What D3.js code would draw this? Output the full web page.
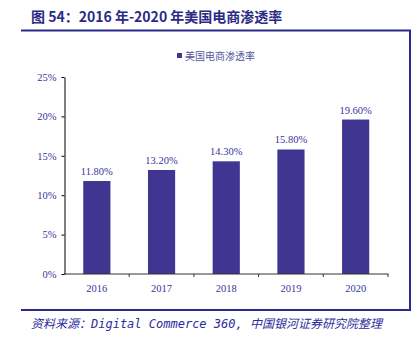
<!DOCTYPE html>
<html><head><meta charset="utf-8">
<script src="https://cdn.jsdelivr.net/npm/d3@7"></script>
<style>body{margin:0;background:#fff}svg{display:block}</style>
</head><body>
<svg id="c" width="413" height="343"></svg>
<script>
const years = ["2016","2017","2018","2019","2020"];
const values = [11.8, 13.2, 14.3, 15.8, 19.6];
const valueLabels = ["11.80%","13.20%","14.30%","15.80%","19.60%"];
const yTicks = [0,5,10,15,20,25];
const seriesName = "美国电商渗透率";
const title = "图 54：2016 年-2020 年美国电商渗透率";
const source = "资料来源：Digital Commerce 360, 中国银河证券研究院整理";

const svg = d3.select("#c");
const barColor = "#403590";
const frame = "#2a2a8c";
const textBlue = "#3535a0";

// title
svg.append("text").attr("x",31).attr("y",22)
  .attr("font-family","'Noto Sans CJK SC'").attr("font-weight","bold")
  .attr("font-size",14).attr("fill","#2b2b85").text(title);

// frame lines
svg.append("line").attr("x1",21).attr("x2",411).attr("y1",30.5).attr("y2",30.5).attr("stroke",frame).attr("stroke-width",2);
svg.append("line").attr("x1",410).attr("x2",410).attr("y1",30).attr("y2",311).attr("stroke",frame).attr("stroke-width",2);
svg.append("line").attr("x1",21).attr("x2",411).attr("y1",310).attr("y2",310).attr("stroke",frame).attr("stroke-width",2);

// source
svg.append("text").attr("x",31).attr("y",328)
  .attr("font-family","'DejaVu Sans Mono','Noto Sans CJK SC'").attr("font-style","italic")
  .attr("font-size",12).attr("fill","#2b2ba0").text(source);

// legend
svg.append("rect").attr("x",177).attr("y",53).attr("width",5).attr("height",5).attr("fill",barColor);
svg.append("text").attr("x",185).attr("y",59.5)
  .attr("font-family","'Noto Sans CJK SC'").attr("font-size",10).attr("fill","#55559a").text(seriesName);

// scales
const y = d3.scaleLinear().domain([0,25]).range([274,77]);
const xTick = d3.scaleBand().domain(years).range([64.5,388]).padding(0);
const x = d3.scaleBand().domain(years).range([64.5,388]).paddingInner(0.58).paddingOuter(0.29);

// bars
svg.selectAll("rect.bar").data(values).enter().append("rect")
  .attr("class","bar")
  .attr("x",(d,i)=>x(years[i])).attr("width",x.bandwidth())
  .attr("y",d=>y(d)).attr("height",d=>y(0)-y(d))
  .attr("fill",barColor);

// value labels
svg.selectAll("text.vl").data(values).enter().append("text")
  .attr("class","vl")
  .attr("x",(d,i)=>x(years[i])+x.bandwidth()/2).attr("y",d=>y(d)-6)
  .attr("text-anchor","middle").attr("font-family","'Liberation Serif'")
  .attr("font-size",10.5).attr("fill",textBlue).text((d,i)=>valueLabels[i]);

// y axis
const yAxis = svg.append("g").attr("transform","translate(64.5,0)")
  .call(d3.axisLeft(y).tickValues(yTicks).tickFormat(d=>d+"%").tickSize(3).tickSizeOuter(0));
yAxis.select(".domain").attr("stroke","#000");
yAxis.selectAll(".tick line").attr("stroke","#000");
yAxis.selectAll("text").attr("font-family","'Liberation Serif'").attr("font-size",10.5)
  .attr("fill",textBlue).attr("x",-8);

// x axis
const xAxis = svg.append("g").attr("transform","translate(0,274)");
xAxis.append("line").attr("x1",64).attr("x2",388.5).attr("y1",0).attr("y2",0).attr("stroke","#333");
xAxis.selectAll("line.xt").data(years).enter().append("line").attr("class","xt")
  .attr("x1",d=>xTick(d)+xTick.bandwidth()).attr("x2",d=>xTick(d)+xTick.bandwidth())
  .attr("y1",0).attr("y2",3).attr("stroke","#333");
xAxis.selectAll("text").data(years).enter().append("text")
  .attr("x",d=>xTick(d)+xTick.bandwidth()/2).attr("y",17.5)
  .attr("text-anchor","middle").attr("font-family","'Liberation Serif'")
  .attr("font-size",10.5).attr("fill",textBlue).text(d=>d);
</script>
</body></html>
